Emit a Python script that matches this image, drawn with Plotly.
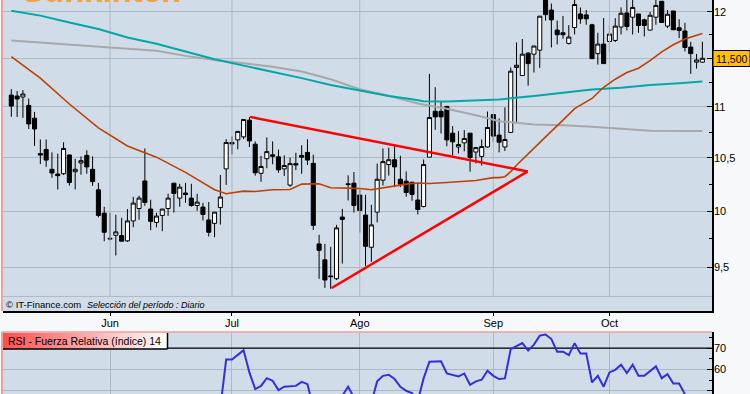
import plotly.graph_objects as go

W, H = 750, 394
highs = [11.18,11.16,11.17,11.085,10.95,10.677,10.677,10.552,10.54,10.65,
10.53,10.49,10.513,10.572,10.513,10.262,10.04,9.985,9.967,9.94,
10.019,10.132,10.142,10.59,10.105,9.985,10.021,10.16,10.259,10.253,
10.262,10.253,10.16,10.077,10.083,9.991,10.336,10.68,10.707,10.756,
10.877,10.897,10.658,10.519,10.697,10.658,10.579,10.523,10.503,10.549,
10.621,10.68,10.53,9.786,9.705,9.679,9.875,10.021,10.333,10.364,
10.197,10.151,10.058,10.444,10.589,10.598,10.611,10.52,10.37,10.271,
10.253,10.484,11.337,11.199,11.054,11.005,10.808,10.759,10.769,10.739,
10.601,10.677,10.953,10.923,10.884,10.995,11.403,11.667,11.704,11.564,
11.632,11.951,12.233,12.09,11.903,11.954,11.854,12.158,12.047,12.018,
11.868,11.771,11.932,11.857,11.929,12.047,12.158,12.147,11.975,11.925,
11.997,12.158,12.115,12.018,12.008,11.918,11.879,11.675,11.546,11.675]
lows = [10.90,10.90,10.89,10.78,10.615,10.44,10.413,10.31,10.20,10.336,
10.237,10.20,10.339,10.348,10.234,9.943,9.729,9.737,9.603,9.729,
9.723,9.854,9.922,10.049,9.827,9.854,9.818,9.958,9.987,10.04,
10.077,10.04,10.003,9.916,9.771,9.764,9.878,10.243,10.532,10.582,
10.68,10.604,10.33,10.272,10.40,10.438,10.357,10.327,10.225,10.382,
10.348,10.431,9.83,9.40,9.322,9.314,9.39,9.532,10.098,9.987,
9.806,9.512,9.547,9.898,10.237,10.33,10.222,10.222,10.132,10.095,
9.97,10.034,10.506,10.772,10.736,10.611,10.523,10.542,10.562,10.367,
10.447,10.426,10.598,10.654,10.552,10.565,10.746,10.847,11.32,11.216,
11.351,11.399,11.903,11.614,11.646,11.707,11.646,11.753,11.868,11.857,
11.493,11.434,11.444,11.564,11.672,11.753,11.796,11.753,11.771,11.732,
11.796,11.857,11.882,11.822,11.80,11.714,11.571,11.337,11.392,11.454]
opens = [11.119,11.11,11.10,11.015,10.887,10.54,10.58,10.39,10.345,10.348,
10.527,10.367,10.45,10.523,10.39,10.197,9.982,9.755,9.782,9.779,
9.732,9.911,10.024,10.28,10.019,9.898,9.961,10.024,10.259,10.12,
10.167,10.12,10.052,10.037,9.92,9.889,10.033,10.394,10.648,10.673,
10.703,10.867,10.631,10.352,10.491,10.528,10.509,10.394,10.241,10.444,
10.523,10.552,10.447,9.705,9.565,9.425,9.401,9.946,10.253,10.259,
10.148,9.964,9.675,9.991,10.287,10.435,10.481,10.296,10.278,10.268,
10.102,10.043,10.506,10.956,10.956,11.005,10.739,10.604,10.644,10.739,
10.555,10.513,10.604,10.923,10.72,10.604,10.746,11.403,11.32,11.554,
11.543,11.586,12.18,12.018,11.80,11.771,11.657,11.828,11.975,11.965,
11.857,11.549,11.65,11.678,11.689,11.833,11.986,11.94,11.975,11.911,
11.80,11.94,12.115,11.843,12.008,11.825,11.79,11.618,11.459,11.459]
closes = [11.008,11.08,11.13,10.83,10.78,10.526,10.478,10.355,10.33,10.59,
10.265,10.39,10.472,10.413,10.274,9.961,9.809,9.75,9.812,9.729,
9.911,10.074,10.12,10.08,9.907,9.955,10.019,10.12,10.163,10.222,
10.154,10.052,10.083,9.97,9.809,9.991,10.13,10.648,10.634,10.756,
10.874,10.663,10.357,10.417,10.559,10.515,10.385,10.426,10.444,10.431,
10.506,10.478,9.871,9.648,9.39,9.419,9.848,9.925,10.246,10.052,
10.006,9.684,9.875,10.296,10.463,10.481,10.413,10.25,10.172,10.154,
10.015,10.435,10.894,10.90,10.90,10.673,10.654,10.628,10.687,10.503,
10.598,10.608,10.795,10.71,10.651,10.677,11.365,11.427,11.543,11.444,
11.629,11.951,11.968,11.911,11.75,11.75,11.725,12.079,11.922,11.922,
11.496,11.65,11.444,11.757,11.843,11.983,11.839,12.047,11.85,11.85,
11.961,12.069,11.882,11.972,11.804,11.796,11.614,11.549,11.482,11.5]
days = list(range(len(closes)))

brown_x = [0,5,10,15,20,25,30,35,37,40,42,45,48,50,53,55,58,60,62,65,68,70,72,75,78,80,83,84,85,86,87,88,90,92,95,97,100,102,104,106,108,110,112,114,116,119]
brown_y = [11.517,11.293,11.029,10.791,10.614,10.506,10.361,10.197,10.16,10.185,10.181,10.197,10.2,10.25,10.253,10.216,10.213,10.209,10.197,10.225,10.25,10.26,10.256,10.265,10.28,10.284,10.311,10.311,10.32,10.367,10.428,10.484,10.589,10.703,10.867,10.982,11.085,11.199,11.282,11.351,11.396,11.475,11.568,11.643,11.704,11.764]
teal_x = [0,5,10,15,20,25,30,35,40,45,50,55,60,65,69,71,75,80,84,90,95,100,105,110,115,119]
teal_y = [12.011,11.957,11.882,11.811,11.721,11.653,11.571,11.49,11.423,11.361,11.293,11.223,11.164,11.109,11.078,11.057,11.054,11.064,11.075,11.109,11.144,11.175,11.195,11.223,11.241,11.257]
gray_x = [0,5,10,15,20,25,30,35,40,45,50,55,60,65,70,75,80,84,90,95,100,105,110,119]
gray_y = [11.689,11.667,11.65,11.624,11.603,11.578,11.525,11.482,11.448,11.41,11.361,11.282,11.179,11.112,11.034,10.982,10.916,10.857,10.825,10.818,10.801,10.779,10.762,10.759]

trend_top_x = [41.1, 88.93]
trend_top_y = [10.90, 10.37]
trend_low_x = [55.17, 88.93]
trend_low_y = [9.322, 10.37]

rsi_x = list(range(35, 120))
rsi_y = [40,42.2,64.6,64.6,66.8,69,58.6,50.8,52.3,55.9,54.7,50.3,51.9,52.2,52.3,54.2,53.1,42.2,43,41,42,44.5,47.7,51.9,46.9,44,40.5,44.5,54.4,57,57.5,55.5,51.9,50,48.9,45.3,55.8,63.6,63.8,63.8,58.1,57.5,56.7,58.1,52.8,54.4,55.2,59.4,57,55.5,55.8,69.5,70.8,72.3,68.8,71.6,75.8,76.3,74.2,68.3,68.3,66.7,72.3,67.5,67.5,53.9,57,51.9,58.6,59.8,62.2,58.3,62.2,57,57,59.4,61.4,55.9,57.8,53.4,53.4,48.4,44,42,43]

month_pos = [17, 38, 60, 83, 103]
month_labels = ["Jun", "Jul", "Ago", "Sep", "Oct"]
price_ticks = [12, 11.5, 11, 10.5, 10, 9.5]
price_labels = ["12", "", "11", "10,5", "10", "9,5"]
price_minor = [11.75, 11.25, 10.75, 10.25, 9.75]
footer_level = 9.25

PANEL, GRID, PAGE = "#d0dce8", "#aeb9c6", "#f7f8fa"
FONT = "Liberation Sans"
XR = [-1.43, 120.66]
YR = [0.96036, 1.083826]

def px(x): return x / W
def py(y): return 1 - y / H

fig = go.Figure()
vx, vy = [], []
for m in month_pos:
    vx += [m, m, None]
    vy += [footer_level, 13, None]
fig.add_trace(go.Scatter(x=vx, y=vy, mode="lines", line=dict(color=GRID, width=1), hoverinfo="skip"))
fig.add_trace(go.Scatter(x=XR, y=[footer_level, footer_level], mode="lines", line=dict(color=GRID, width=1), hoverinfo="skip"))
fig.add_trace(go.Candlestick(x=days, open=opens, high=highs, low=lows, close=closes, whiskerwidth=0,
    increasing=dict(fillcolor="white", line=dict(color="black", width=1)),
    decreasing=dict(fillcolor="black", line=dict(color="black", width=1))))
fig.add_trace(go.Scatter(x=gray_x, y=gray_y, mode="lines", line=dict(color="#a8a8a8", width=2)))
fig.add_trace(go.Scatter(x=teal_x, y=teal_y, mode="lines", line=dict(color="#00a8a8", width=2)))
fig.add_trace(go.Scatter(x=brown_x, y=brown_y, mode="lines", line=dict(color="#c04000", width=1.6)))
fig.add_trace(go.Scatter(x=trend_top_x, y=trend_top_y, mode="lines", line=dict(color="#ff0000", width=2.5)))
fig.add_trace(go.Scatter(x=trend_low_x, y=trend_low_y, mode="lines", line=dict(color="#ff0000", width=2.5)))
fig.add_trace(go.Scatter(x=XR, y=[70, 70], xaxis="x2", yaxis="y2", mode="lines", line=dict(color="black", width=1.2)))
fig.add_trace(go.Scatter(x=rsi_x, y=rsi_y, xaxis="x2", yaxis="y2", mode="lines", line=dict(color="#3030e0", width=2)))

shapes = [
    dict(type="line", xref="paper", yref="paper", x0=px(2), x1=px(2), y0=py(0), y1=py(311), line=dict(color="#f0a0a0", width=2)),
    dict(type="line", xref="paper", yref="paper", x0=px(2), x1=px(2), y0=py(332), y1=py(394), line=dict(color="#f0a0a0", width=2)),
    dict(type="line", xref="paper", yref="paper", x0=px(2), x1=px(712), y0=py(332), y1=py(332), line=dict(color="#f0a0a0", width=1.5)),
    dict(type="rect", xref="paper", yref="paper", layer="above", x0=px(713), x1=px(750), y0=py(66.5), y1=py(50.5), fillcolor="#ffc000", line=dict(color="black", width=1)),
]
n = 55
x0, x1 = 3, 167
for k in range(n):
    t = k / (n - 1)
    c = f"rgb(255,{int(80 + 175 * t)},{int(80 + 175 * t)})"
    shapes.append(dict(type="rect", xref="paper", yref="paper", layer="above",
        x0=px(x0 + (x1 - x0) * k / n), x1=px(x0 + (x1 - x0) * (k + 1) / n) + 0.0005,
        y0=py(349), y1=py(333), fillcolor=c, line=dict(width=0)))
shapes.append(dict(type="line", xref="paper", yref="paper", layer="above", x0=px(3), x1=px(167.5), y0=py(349), y1=py(349), line=dict(color="black", width=1.5)))
shapes.append(dict(type="line", xref="paper", yref="paper", layer="above", x0=px(167.5), x1=px(167.5), y0=py(333), y1=py(349), line=dict(color="black", width=1.5)))

def note(text, x, y, size=11, color="black", **kw):
    return dict(text=text, x=px(x), y=py(y), xref="paper", yref="paper", xanchor=kw.pop("xanchor", "left"),
                yanchor=kw.pop("yanchor", "middle"), showarrow=False, font=dict(family=FONT, size=size, color=color), **kw)

annotations = [
    note("<b>Sunkinter.</b>", 20, 11, size=33, color="#f5a040", yanchor="bottom"),
    note("© IT-Finance.com", 4, 304.5, size=9.5),
    note("<i>Selección del período : Diario</i>", 85, 304.5, size=9),
    note("RSI - Fuerza Relativa (índice) 14", 6, 341, size=10.5),
    note("11,500", 714, 58.5, size=10.5),
]

fig.update_layout(
    width=W, height=H, margin=dict(l=0, r=0, t=0, b=0), showlegend=False, boxgap=0,
    paper_bgcolor=PAGE, plot_bgcolor=PANEL, shapes=shapes, annotations=annotations,
    font=dict(family=FONT, size=11, color="black"),
    xaxis=dict(domain=[px(3), px(712)], range=XR, tickmode="array", tickvals=month_pos, ticktext=month_labels,
        showgrid=False, zeroline=False, ticks="outside", ticklen=3, tickcolor="black", showline=True, linecolor="black",
        linewidth=1.5, rangeslider=dict(visible=False), anchor="y", tickfont=dict(size=11), ticklabelstandoff=-2),
    yaxis=dict(domain=[py(311), 1], type="log", range=YR, side="right", anchor="x", tickmode="array",
        tickvals=price_ticks, ticktext=price_labels, ticks="inside", ticklen=5, tickcolor="black", gridcolor=GRID,
        gridwidth=1, zeroline=False, showline=True, linecolor="black", linewidth=1.5, tickfont=dict(size=11), ticklabelstandoff=-2,
        minor=dict(tickmode="array", tickvals=price_minor, ticks="inside", ticklen=3, tickcolor="black", showgrid=False)),
    xaxis2=dict(domain=[px(3), px(712)], range=XR, tickmode="array", tickvals=month_pos, showticklabels=False,
        gridcolor=GRID, gridwidth=1, zeroline=False, anchor="y2", ticks=""),
    yaxis2=dict(domain=[0, py(332)], range=[48.5, 77.5], side="right", anchor="x2", tickmode="array",
        tickvals=[70, 60, 50], ticks="inside", ticklen=5, tickcolor="black", gridcolor=GRID, gridwidth=1,
        zeroline=False, showline=True, linecolor="black", linewidth=1.5, tickfont=dict(size=11), ticklabelstandoff=-2,
        minor=dict(tickmode="array", tickvals=[75, 65, 55], ticks="inside", ticklen=3, tickcolor="black", showgrid=False)),
)
fig.write_html("out.html", post_script="document.body.style.margin='0';document.body.style.overflow='hidden';", config=dict(displayModeBar=False))
